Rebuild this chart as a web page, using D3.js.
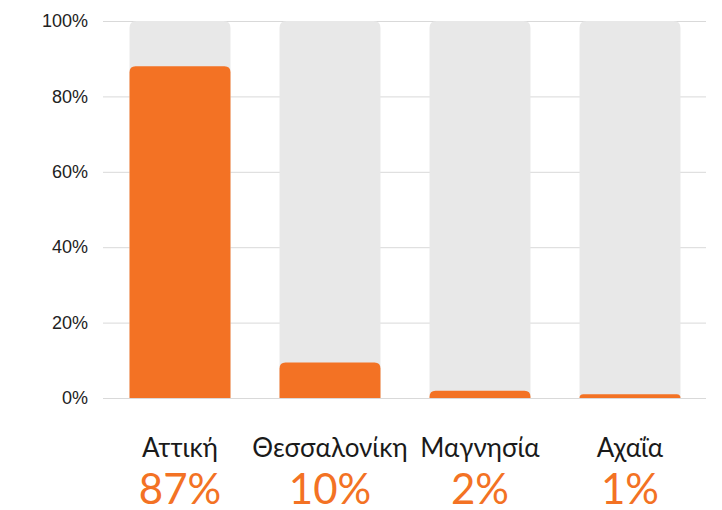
<!DOCTYPE html>
<html>
<head>
<meta charset="utf-8">
<script src="https://cdn.jsdelivr.net/npm/d3@7"></script>
<style>
  body { margin: 0; background: #fff; }
  svg { display: block; font-family: "Lato", "Noto Sans", sans-serif; }
</style>
</head>
<body>
<svg width="722" height="510"></svg>
<script>
// chart data
var regions = ["Αττική", "Θεσσαλονίκη", "Μαγνησία", "Αχαΐα"];
var shares = [88, 9.4, 1.9, 1.0];           // bar heights
var shareLabels = ["87%", "10%", "2%", "1%"];
var yTicks = [0, 20, 40, 60, 80, 100];

var svg = d3.select("svg"),
    margin = {top: 21, right: 16, bottom: 112, left: 105},
    w = +svg.attr("width") - margin.left - margin.right,
    h = +svg.attr("height") - margin.top - margin.bottom;

var orange = "#f37224";

var x = d3.scaleBand()
    .domain(regions)
    .range([0, 600])
    .paddingInner(0.327)
    .paddingOuter(0.1635);

var y = d3.scaleLinear().domain([0, 100]).range([h, 0]);

var g = svg.append("g")
    .attr("transform", "translate(" + margin.left + "," + margin.top + ")");

// grid lines + y labels
var yAxis = d3.axisLeft(y)
    .tickValues(yTicks)
    .tickSize(-603)
    .tickFormat(function(d) { return d + "%"; });

var ax = g.append("g")
    .attr("transform", "translate(-2,0)")
    .call(yAxis);
ax.select(".domain").remove();
ax.selectAll(".tick line").attr("stroke", "#d9d9d9").attr("stroke-width", 1);
ax.selectAll(".tick text")
    .attr("fill", "#222")
    .style("font-size", "18px")
    .attr("x", -15);

// top-rounded bar path
function topRounded(x0, y0, bw, bh, r) {
  r = Math.min(r, bh, bw / 2);
  return "M" + x0 + "," + (y0 + bh) +
    "V" + (y0 + r) +
    "Q" + x0 + "," + y0 + " " + (x0 + r) + "," + y0 +
    "H" + (x0 + bw - r) +
    "Q" + (x0 + bw) + "," + y0 + " " + (x0 + bw) + "," + (y0 + r) +
    "V" + (y0 + bh) + "Z";
}

// background bars (100%)
g.selectAll(".bg")
    .data(regions)
    .enter().append("path")
    .attr("class", "bg")
    .attr("fill", "#e8e8e8")
    .attr("d", function(d) { return topRounded(x(d), y(100), x.bandwidth(), h - y(100), 7); });

// value bars
g.selectAll(".bar")
    .data(regions)
    .enter().append("path")
    .attr("class", "bar")
    .attr("fill", orange)
    .attr("d", function(d, i) {
      return topRounded(x(d), y(shares[i]), x.bandwidth(), h - y(shares[i]), 6);
    });

// category labels
g.selectAll(".cat")
    .data(regions)
    .enter().append("text")
    .attr("class", "cat")
    .attr("x", function(d) { return x(d) + x.bandwidth() / 2; })
    .attr("y", h + 59)
    .attr("text-anchor", "middle")
    .attr("fill", "#1a1a1a")
    .style("font-size", "26px")
    .text(function(d) { return d; });

// percentage labels
g.selectAll(".pct")
    .data(regions)
    .enter().append("text")
    .attr("class", "pct")
    .attr("x", function(d) { return x(d) + x.bandwidth() / 2; })
    .attr("y", h + 106)
    .attr("text-anchor", "middle")
    .attr("fill", orange)
    .style("font-size", "42px")
    .text(function(d, i) { return shareLabels[i]; });
</script>
</body>
</html>
